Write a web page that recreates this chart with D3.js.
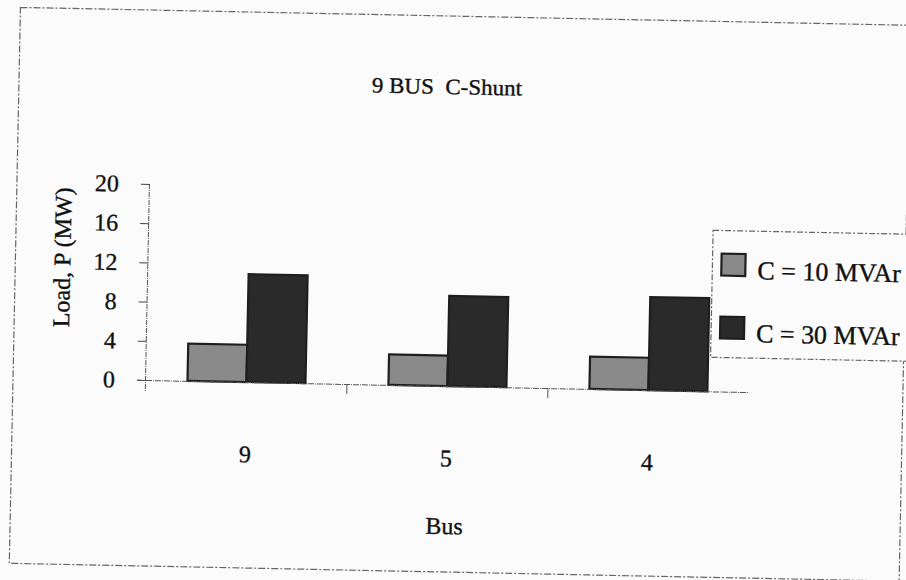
<!DOCTYPE html>
<html>
<head>
<meta charset="utf-8">
<script src="https://cdn.jsdelivr.net/npm/d3@7"></script>
<style>
  html, body { margin: 0; padding: 0; background: #fbfbfb; }
  svg { display: block; }
  text { font-family: "Liberation Serif", "Times New Roman", serif; fill: #111; stroke: #111; stroke-width: 0.35px; }
</style>
</head>
<body>
<script>
// ---- data ----
const categories = ["9", "5", "4"];
const seriesNames = ["C = 10 MVAr", "C = 30 MVAr"];
const c10Values = [3.8, 3.1, 3.3];
const c30Values = [11.0, 9.2, 9.5];
const yTicks = [0, 4, 8, 12, 16, 20];
const titleText = "9 BUS  C-Shunt";
const xTitle = "Bus";
const yTitle = "Load, P (MW)";

const W = 906, H = 580;
const colors = ["#8a8a8a", "#2a2a2a"];

const svg = d3.select("body").append("svg").attr("width", W).attr("height", H);
svg.append("rect").attr("width", W).attr("height", H).attr("fill", "#fbfbfb");

// whole scanned page is slightly rotated
const g = svg.append("g").attr("transform", "rotate(1.15,146,380)");

// outer chart border
g.append("rect")
  .attr("x", 13).attr("y", 10).attr("width", 890).attr("height", 556)
  .attr("fill", "none").attr("stroke", "#666").attr("stroke-width", 1.2)
  .attr("stroke-dasharray", "7,2,2,2");

// title
g.append("text").attr("x", 441).attr("y", 88).attr("text-anchor", "middle")
  .attr("font-size", 22).attr("textLength", 150).attr("lengthAdjust", "spacingAndGlyphs")
  .style("white-space", "pre")
  .text(titleText);

// scales
const x0 = d3.scaleBand().domain(categories).range([146, 749]).padding(0);
const y = d3.scaleLinear().domain([0, 20]).range([380, 184]);
const groupW = 118;
const x1 = d3.scaleBand().domain([0, 1]).range([0, groupW]).padding(0);

// y axis
const yAxis = d3.axisLeft(y).tickValues(yTicks).tickSize(9).tickPadding(22).tickFormat(d3.format("d"));
const ya = g.append("g").attr("transform", "translate(146,0)").call(yAxis);
ya.select(".domain").attr("stroke", "#555").attr("stroke-dasharray", "5,1,1,1")
  .attr("d", "M-0.5,184V392");
ya.selectAll(".tick line").attr("stroke", "#444");
ya.selectAll(".tick text").attr("font-size", 24).attr("fill", "#111")
  .attr("font-family", "Liberation Serif, serif");

// bars
const data = categories.map((c, i) => ({ cat: c, vals: [c10Values[i], c30Values[i]] }));
const groups = g.append("g").selectAll("g").data(data).join("g")
  .attr("transform", d => `translate(${x0(d.cat) + (x0.bandwidth() - groupW) / 2},0)`);
groups.selectAll("rect").data(d => d.vals).join("rect")
  .attr("x", (d, i) => x1(i))
  .attr("width", x1.bandwidth())
  .attr("y", d => y(d))
  .attr("height", d => y(0) - y(d))
  .attr("fill", (d, i) => colors[i])
  .attr("stroke", "#1e1e1e").attr("stroke-width", 2.2);

// x axis
const xAxis = d3.axisBottom(x0).tickSize(0).tickPadding(60);
const xa = g.append("g").attr("transform", "translate(0,380)").call(xAxis);
xa.select(".domain").attr("stroke", "#555").attr("stroke-dasharray", "6,1,1,1")
  .attr("d", "M137,0.5H749");
xa.selectAll(".tick text").attr("font-size", 24).attr("fill", "#111")
  .attr("font-family", "Liberation Serif, serif").attr("dy", "0.85em");
// category separator ticks
xa.selectAll(".sep").data(categories.slice(1)).join("line").attr("class", "sep")
  .attr("x1", d => x0(d)).attr("x2", d => x0(d))
  .attr("y1", 0).attr("y2", 10).attr("stroke", "#555");

// axis titles
g.append("text").attr("x", 447).attr("y", 528).attr("text-anchor", "middle")
  .attr("font-size", 24).text(xTitle);
g.append("text").attr("transform", "translate(68,259) rotate(-90)")
  .attr("text-anchor", "middle").attr("font-size", 24).text(yTitle);

// legend
const lg = g.append("g");
lg.append("rect").attr("x", 710).attr("y", 219).attr("width", 300).attr("height", 127)
  .attr("fill", "#fbfbfb").attr("stroke", "#666").attr("stroke-width", 1.2)
  .attr("stroke-dasharray", "6,2,2,2");
const items = lg.selectAll("g.item").data(seriesNames).join("g").attr("class", "item")
  .attr("transform", (d, i) => `translate(0,${i === 0 ? 0 : 63})`);
items.append("rect").attr("x", 719).attr("y", 242).attr("width", 24).attr("height", 22)
  .attr("fill", (d, i) => colors[i]).attr("stroke", "#1e1e1e").attr("stroke-width", 2.2);
items.append("text").attr("x", 755).attr("y", 267).attr("font-size", 26).text(d => d);
</script>
</body>
</html>
